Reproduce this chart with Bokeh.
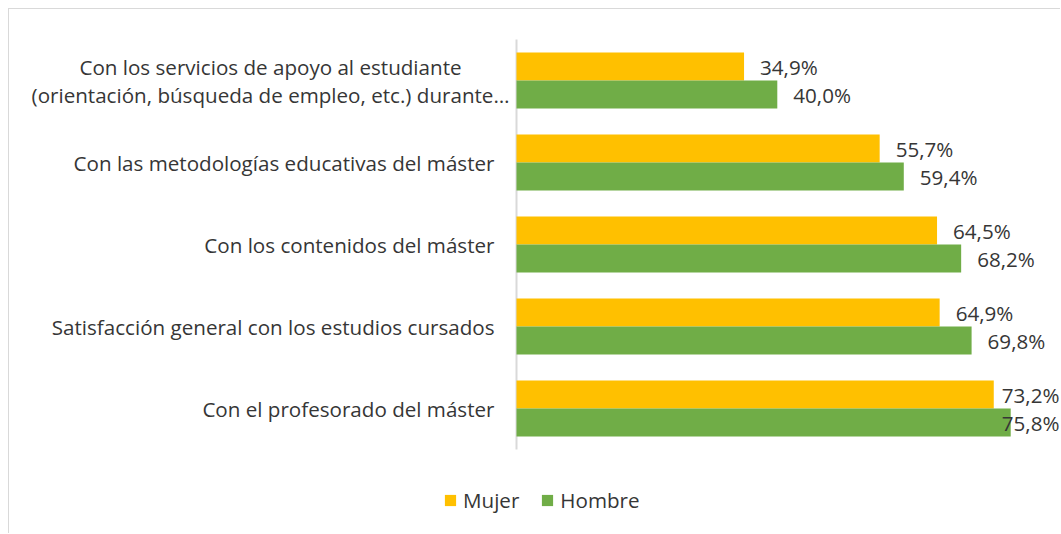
from bokeh.plotting import figure
from bokeh.models import Range1d, Legend, LegendItem, ColumnDataSource
from bokeh.core.properties import value
from bokeh.embed import file_html
from bokeh.resources import INLINE

categories = [
    "Con los servicios de apoyo al estudiante\n(orientación, búsqueda de empleo, etc.) durante…",
    "Con las metodologías educativas del máster",
    "Con los contenidos del máster",
    "Satisfacción general con los estudios cursados",
    "Con el profesorado del máster",
]
mujer = [34.9, 55.7, 64.5, 64.9, 73.2]
hombre = [40.0, 59.4, 68.2, 69.8, 75.8]
series_names = ["Mujer", "Hombre"]
colors = ["#FFC000", "#70AD47"]

FONT = "Open Sans"
FSIZE = "20.6px"
TXT = "#363636"

# layout (pixels) -> ranges
W, H = 1052, 525
PX_X = 6.52            # px per percentage point
AXIS_PX = 507          # distance of the zero line from the left edge
BAND = 82              # px per category band
TOP_PX = 30            # space above first band
N = len(categories)
X_START = -AXIS_PX / PX_X
X_END = (W - AXIS_PX) / PX_X
Y_END = N - 0.5 + TOP_PX / BAND
Y_START = Y_END - H / BAND
LABEL_GAP = 16
LABEL_W = 62
LABEL_LIMIT = X_END - 2 / PX_X
CAT_GAP = 22           # single-line labels: gap to axis
WRAP_HALF = 246        # wrapped labels are centred, half block width + gap

ypos = [N - 1 - i for i in range(N)]

def fmt(v):
    return f"{v:.1f}".replace(".", ",") + "%"

p = figure(
    width=W, height=H,
    x_range=Range1d(X_START, X_END), y_range=Range1d(Y_START, Y_END),
    output_backend="svg", toolbar_location=None,
    min_border=0,
)
p.styles = {"margin-left": "8px", "margin-top": "8px",
            "border-left": "1px solid #d9d9d9", "border-top": "1px solid #d9d9d9"}
p.outline_line_color = None
p.xgrid.visible = False
p.ygrid.visible = False
p.xaxis.visible = False
p.yaxis.visible = False

# category axis line
p.segment(x0=0, x1=0, y0=-0.5, y1=N - 0.5, line_color="#d9d9d9", line_width=2)

# category labels
wrapped = ["\n" in c for c in categories]
cat_src = ColumnDataSource(dict(
    y=ypos, text=categories, x=[0] * N,
    align=["center" if w else "right" for w in wrapped],
    xo=[-WRAP_HALF if w else -CAT_GAP for w in wrapped],
))
p.text(x="x", y="y", text="text", source=cat_src, x_offset="xo",
       text_align="align", text_baseline="middle",
       text_font=value(FONT), text_font_size=FSIZE, text_color=TXT, line_height=1.0)

BAR_H = 28 / BAND
OFF = 14 / BAND

renderers = []
for name, vals, col, off in zip(series_names, [mujer, hombre], colors, [OFF, -OFF]):
    clamp = [(v * PX_X + LABEL_GAP + LABEL_W) > LABEL_LIMIT * PX_X for v in vals]
    src = ColumnDataSource(dict(
        y=[y + off for y in ypos],
        v=vals,
        lbl=[fmt(v) for v in vals],
        lx=[LABEL_LIMIT if c else v for v, c in zip(vals, clamp)],
        align=["right" if c else "left" for c in clamp],
        xo=[0 if c else LABEL_GAP for c in clamp],
    ))
    r = p.hbar(y="y", right="v", left=0, height=BAR_H,
               source=src, fill_color=col, line_color=None)
    renderers.append(r)
    p.text(x="lx", y="y", text="lbl", source=src,
           text_align="align", x_offset="xo", text_baseline="middle",
           text_font=value(FONT), text_font_size=FSIZE, text_color=TXT)

legend = Legend(
    items=[LegendItem(label=n, renderers=[r]) for n, r in zip(series_names, renderers)],
    orientation="horizontal",
    location=(434, 20),
    padding=0, margin=0, spacing=21, label_standoff=6,
    glyph_width=14, glyph_height=14,
    label_text_font=FONT, label_text_font_size=FSIZE, label_text_color=TXT,
    border_line_color=None, background_fill_alpha=0,
)
p.add_layout(legend, "center")

open("out.html", "w").write(file_html(p, INLINE))
